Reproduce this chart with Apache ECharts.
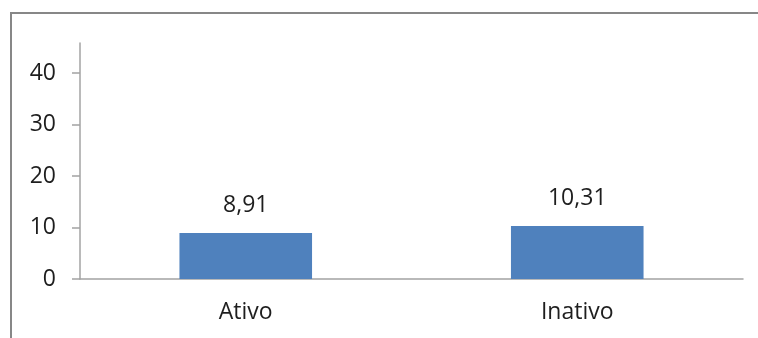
<!DOCTYPE html>
<html>
<head>
<meta charset="utf-8">
<script src="https://cdn.jsdelivr.net/npm/echarts@6/dist/echarts.min.js"></script>
<style>
html,body{margin:0;padding:0;background:#fff;}
#c{width:758px;height:338px;}
</style>
</head>
<body>
<div id="c"></div>
<script>
var categories = ['Ativo', 'Inativo'];
var values = [8.91, 10.31];
var valueLabels = ['8,91', '10,31'];
var yTicks = [0, 10, 20, 30, 40];

var chart = echarts.init(document.getElementById('c'), null, {renderer: 'canvas'});
var font = '"Open Sans", "Noto Sans", sans-serif';
var axisColor = '#a3a3a3';
chart.setOption({
  animation: false,
  backgroundColor: '#ffffff',
  graphic: [
    {type: 'line', shape: {x1: 11, y1: 13, x2: 11, y2: 338}, style: {stroke: '#878787', lineWidth: 2}},
    {type: 'line', shape: {x1: 10, y1: 13, x2: 758, y2: 13}, style: {stroke: '#878787', lineWidth: 2}}
  ],
  grid: {left: 80, right: 15, top: 43, bottom: 59},
  xAxis: {
    type: 'category',
    data: categories,
    axisLine: {lineStyle: {color: axisColor, width: 1.5}},
    axisTick: {show: false},
    axisLabel: {color: '#1e1e1e', fontFamily: font, fontSize: 23, margin: 22}
  },
  yAxis: {
    type: 'value',
    min: 0,
    max: 45.83,
    interval: 10,
    splitLine: {show: false},
    axisLine: {show: true, lineStyle: {color: axisColor, width: 1.5}},
    axisTick: {show: true, inside: false, length: 8, lineStyle: {color: axisColor, width: 1.5}},
    axisLabel: {
      color: '#1e1e1e', fontFamily: font, fontSize: 23, margin: 24,
      showMaxLabel: false,
      formatter: function (v) { return yTicks.indexOf(v) >= 0 ? String(v) : ''; }
    }
  },
  series: [{
    type: 'bar',
    data: values,
    barWidth: '40%',
    itemStyle: {color: '#4f81bd'},
    label: {
      show: true, position: 'top', distance: 16,
      color: '#1e1e1e', fontFamily: font, fontSize: 23,
      formatter: function (p) { return valueLabels[p.dataIndex]; }
    }
  }]
});
</script>
</body>
</html>
